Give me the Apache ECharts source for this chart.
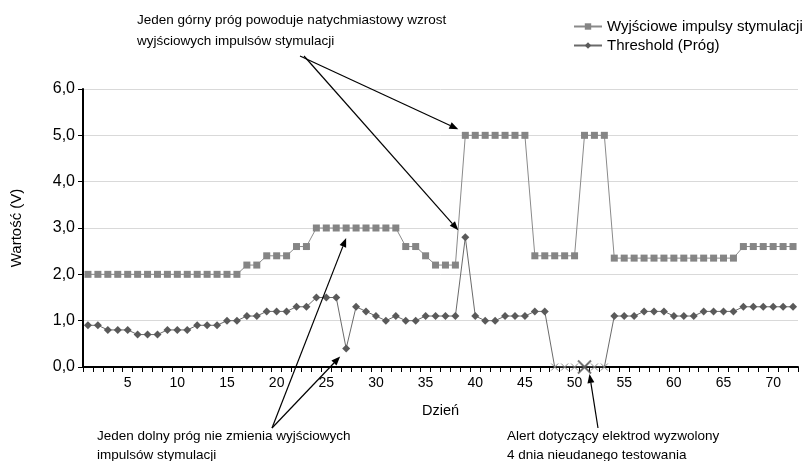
<!DOCTYPE html>
<html>
<head>
<meta charset="utf-8">
<script src="https://cdn.jsdelivr.net/npm/echarts@6/dist/echarts.min.js"></script>
<style>
  html, body { margin: 0; padding: 0; background: #fff; }
  #chart { width: 805px; height: 461px; }
</style>
</head>
<body>
<div id="chart"></div>
<script>
// dni 1..72
const days = Array.from({ length: 72 }, (_, i) => String(i + 1));

// Wyjściowe impulsy stymulacji (V)
const pulse = [
  2.0, 2.0, 2.0, 2.0, 2.0, 2.0, 2.0, 2.0, 2.0, 2.0, 2.0, 2.0, 2.0, 2.0, 2.0, 2.0,
  2.2, 2.2, 2.4, 2.4, 2.4, 2.6, 2.6,
  3.0, 3.0, 3.0, 3.0, 3.0, 3.0, 3.0, 3.0, 3.0,
  2.6, 2.6, 2.4, 2.2, 2.2, 2.2,
  5.0, 5.0, 5.0, 5.0, 5.0, 5.0, 5.0,
  2.4, 2.4, 2.4, 2.4, 2.4,
  5.0, 5.0, 5.0,
  2.35, 2.35, 2.35, 2.35, 2.35, 2.35, 2.35, 2.35, 2.35, 2.35, 2.35, 2.35, 2.35,
  2.6, 2.6, 2.6, 2.6, 2.6, 2.6
];

// Threshold (Próg) (V)
const threshold = [
  0.9, 0.9, 0.8, 0.8, 0.8, 0.7, 0.7, 0.7, 0.8, 0.8, 0.8, 0.9, 0.9, 0.9, 1.0, 1.0,
  1.1, 1.1, 1.2, 1.2, 1.2, 1.3, 1.3,
  1.5, 1.5, 1.5, 0.4, 1.3, 1.2, 1.1, 1.0, 1.1, 1.0, 1.0,
  1.1, 1.1, 1.1, 1.1, 2.8, 1.1, 1.0, 1.0, 1.1, 1.1, 1.1, 1.2, 1.2,
  0, 0, 0, 0, 0, 0,
  1.1, 1.1, 1.1, 1.2, 1.2, 1.2, 1.1, 1.1, 1.1, 1.2, 1.2, 1.2, 1.2,
  1.3, 1.3, 1.3, 1.3, 1.3, 1.3
];

// dni nieudanego testowania i dzień alertu
const failDays = [48, 49, 50, 51, 52, 53];
const alertDay = 51;

const yTicks = [0, 1, 2, 3, 4, 5, 6];

const FONT = "'Liberation Sans', Arial, sans-serif";
const xPath = 'path://M0,0L10,10M10,0L0,10';

const thresholdData = threshold.map((v, i) => {
  if (failDays.includes(i + 1)) {
    return {
      value: v, symbol: xPath, symbolSize: 7,
      itemStyle: { color: 'none', borderColor: '#8a8a8a', borderWidth: 1 }
    };
  }
  return v;
});

const chart = echarts.init(document.getElementById('chart'));

chart.setOption({
  animation: false,
  textStyle: { fontFamily: FONT },
  grid: { left: 83, right: 7, top: 89, bottom: 94 },
  legend: {
    orient: 'vertical',
    left: 568,
    top: 14,
    itemWidth: 28,
    itemHeight: 8,
    itemGap: 4,
    textStyle: { fontSize: 15, color: '#000', fontFamily: FONT },
    data: ['Wyjściowe impulsy stymulacji', 'Threshold (Próg)']
  },
  xAxis: {
    type: 'category',
    data: days,
    boundaryGap: true,
    name: 'Dzień',
    nameLocation: 'middle',
    nameGap: 36,
    nameTextStyle: { fontSize: 14.5, color: '#000' },
    axisLine: { lineStyle: { color: '#000', width: 2 } },
    axisTick: { show: true, interval: 0, length: 5, lineStyle: { color: '#000' } },
    axisLabel: {
      interval: (i) => (i + 1) % 5 === 0,
      fontSize: 14,
      color: '#000',
      margin: 9
    },
    splitLine: { show: false }
  },
  yAxis: {
    type: 'value',
    min: yTicks[0],
    max: yTicks[yTicks.length - 1],
    interval: 1,
    name: 'Wartość (V)',
    nameLocation: 'middle',
    nameGap: 59,
    nameTextStyle: { fontSize: 15, color: '#000' },
    axisLine: { show: true, lineStyle: { color: '#000', width: 2 } },
    axisTick: { show: true, length: 5, lineStyle: { color: '#000' } },
    axisLabel: {
      fontSize: 16,
      color: '#000',
      margin: 8,
      formatter: (v) => v.toFixed(1).replace('.', ',')
    },
    splitLine: { lineStyle: { color: '#d9d9d9', width: 1 } }
  },
  series: [
    {
      name: 'Wyjściowe impulsy stymulacji',
      type: 'line',
      data: pulse,
      symbol: 'rect',
      symbolSize: 7,
      showAllSymbol: true,
      color: '#858585',
      lineStyle: { color: '#8a8a8a', width: 1 },
      itemStyle: { color: '#858585' },
      z: 3
    },
    {
      name: 'Threshold (Próg)',
      type: 'line',
      data: thresholdData,
      symbol: 'diamond',
      symbolSize: 8,
      showAllSymbol: true,
      color: '#5a5a5a',
      lineStyle: { color: '#6a6a6a', width: 1 },
      itemStyle: { color: '#5a5a5a' },
      z: 4
    },
    {
      name: 'alert',
      type: 'scatter',
      data: [[alertDay - 1, 0]],
      symbol: xPath,
      symbolSize: 13,
      itemStyle: { color: 'none', borderColor: '#555', borderWidth: 2 },
      z: 5
    }
  ]
});

// adnotacje
const notes = [
  { text: 'Jeden górny próg powoduje natychmiastowy wzrost\nwyjściowych impulsów stymulacji', x: 137, y: 10, lh: 21 },
  { text: 'Jeden dolny próg nie zmienia wyjściowych\nimpulsów stymulacji', x: 97, y: 427, lh: 19 },
  { text: 'Alert dotyczący elektrod wyzwolony\n4 dnia nieudanego testowania', x: 507, y: 427, lh: 19 }
];

const arrows = [
  { from: [300, 56], day: 39, value: pulse[38], dx: -7, dy: -6 },
  { from: [304, 56], day: 39, value: threshold[38], dx: -7, dy: -7 },
  { from: [272, 428], day: 27, value: pulse[26], dx: 0, dy: 10 },
  { from: [272, 428], day: 27, value: threshold[26], dx: -6, dy: 8 },
  { from: [598, 428], day: alertDay, value: 0, dx: 5, dy: 7 }
];

const graphic = [];
notes.forEach((n) => {
  graphic.push({
    type: 'text',
    left: n.x,
    top: n.y,
    style: { text: n.text, font: '13.5px ' + FONT, fill: '#000', lineHeight: n.lh },
    z: 10
  });
});

arrows.forEach((a) => {
  const p = chart.convertToPixel({ seriesIndex: 0 }, [a.day - 1, a.value]);
  const tx = p[0] + a.dx, ty = p[1] + a.dy;
  const [sx, sy] = a.from;
  const ang = Math.atan2(ty - sy, tx - sx);
  const len = 9, half = 3.5;
  const bx = tx - len * Math.cos(ang), by = ty - len * Math.sin(ang);
  const nx = -Math.sin(ang) * half, ny = Math.cos(ang) * half;
  graphic.push({
    type: 'line',
    shape: { x1: sx, y1: sy, x2: bx, y2: by },
    style: { stroke: '#000', lineWidth: 1.2 },
    z: 10
  });
  graphic.push({
    type: 'polygon',
    shape: { points: [[tx, ty], [bx + nx, by + ny], [bx - nx, by - ny]] },
    style: { fill: '#000' },
    z: 10
  });
});

chart.setOption({ graphic: graphic });
</script>
</body>
</html>
